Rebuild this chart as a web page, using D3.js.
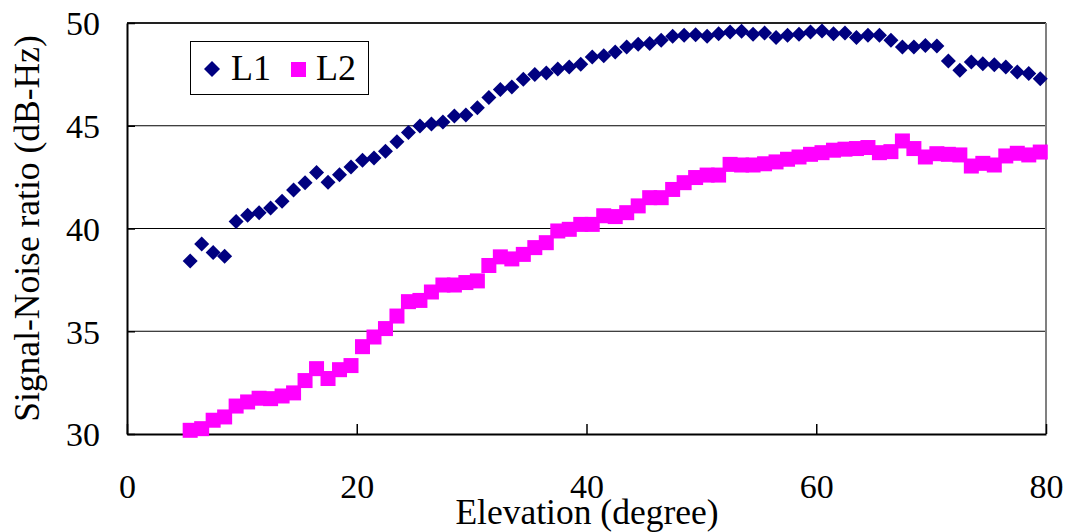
<!DOCTYPE html>
<html><head><meta charset="utf-8">
<script src="https://cdn.jsdelivr.net/npm/d3@7"></script>
<style>
html,body{margin:0;padding:0;background:#fff;}
svg text{font-family:"Liberation Serif","Times New Roman",serif;fill:#000;}
</style></head>
<body><svg id="c" width="1069" height="532"></svg>
<script>
const elevation = [5.5,6.5,7.5,8.5,9.5,10.5,11.5,12.5,13.5,14.5,15.5,16.5,17.5,18.5,19.5,20.5,21.5,22.5,23.5,24.5,25.5,26.5,27.5,28.5,29.5,30.5,31.5,32.5,33.5,34.5,35.5,36.5,37.5,38.5,39.5,40.5,41.5,42.5,43.5,44.5,45.5,46.5,47.5,48.5,49.5,50.5,51.5,52.5,53.5,54.5,55.5,56.5,57.5,58.5,59.5,60.5,61.5,62.5,63.5,64.5,65.5,66.5,67.5,68.5,69.5,70.5,71.5,72.5,73.5,74.5,75.5,76.5,77.5,78.5,79.5];
const L1 = [38.42,39.25,38.83,38.65,40.34,40.64,40.77,41.0,41.32,41.87,42.23,42.72,42.25,42.62,42.99,43.32,43.43,43.76,44.22,44.67,44.99,45.09,45.18,45.47,45.52,45.88,46.37,46.76,46.89,47.26,47.5,47.57,47.76,47.86,47.99,48.35,48.41,48.59,48.83,48.96,49.0,49.16,49.35,49.4,49.43,49.35,49.48,49.56,49.6,49.45,49.51,49.29,49.4,49.45,49.56,49.61,49.48,49.51,49.29,49.4,49.4,49.16,48.83,48.83,48.91,48.88,48.15,47.7,48.1,48.02,47.97,47.86,47.62,47.54,47.29];
const L2 = [30.18,30.26,30.67,30.83,31.36,31.56,31.74,31.72,31.85,32.0,32.6,33.18,32.7,33.13,33.33,34.25,34.72,35.13,35.74,36.44,36.5,36.91,37.25,37.25,37.37,37.45,38.2,38.62,38.52,38.74,39.07,39.31,39.88,39.96,40.2,40.2,40.62,40.58,40.77,41.1,41.5,41.5,41.9,42.23,42.48,42.6,42.6,43.12,43.09,43.09,43.15,43.24,43.37,43.48,43.61,43.69,43.81,43.86,43.89,43.94,43.69,43.74,44.26,43.89,43.48,43.64,43.61,43.58,43.04,43.17,43.09,43.53,43.66,43.58,43.72];
const xTicks = [0,20,40,60,80];
const yTicks = [30,35,40,45,50];
const seriesNames = ["L1","L2"];
const xTitle = "Elevation (degree)";
const yTitle = "Signal-Noise ratio (dB-Hz)";

const svg = d3.select("#c");
const pL = 127, pR = 1046, pT = 23, pB = 434;
const x = d3.scaleLinear().domain([0,80]).range([pL,pR]);
const y = d3.scaleLinear().domain([30,50]).range([pB,pT]);
const FS = 34;

// gridlines
svg.append("g").selectAll("line").data(yTicks.filter(v=>v>30 && v<50)).join("line")
  .attr("x1",pL).attr("x2",pR).attr("y1",d=>y(d)).attr("y2",d=>y(d))
  .attr("stroke","#000").attr("stroke-width",1.2);
// frame top
svg.append("line").attr("x1",pL).attr("x2",pR).attr("y1",y(50)).attr("y2",y(50))
  .attr("stroke","#222").attr("stroke-width",2);
// right border
svg.append("line").attr("x1",pR).attr("x2",pR).attr("y1",pT).attr("y2",pB)
  .attr("stroke","#808080").attr("stroke-width",2);

// axes
const xAxis = d3.axisBottom(x).tickValues(xTicks).tickSizeInner(-10).tickSizeOuter(0).tickPadding(0).tickFormat(d3.format("d"));
const gx = svg.append("g").attr("transform",`translate(0,${pB})`).call(xAxis);
gx.select(".domain").attr("stroke","#000").attr("stroke-width",2);
gx.selectAll(".tick line").attr("stroke","#000").attr("stroke-width",1.5);
gx.selectAll(".tick text").attr("font-size",FS).attr("dy",null).attr("y",64)
  .attr("font-family","Liberation Serif");

const yAxis = d3.axisLeft(y).tickValues(yTicks).tickSizeInner(-8).tickSizeOuter(0).tickPadding(0).tickFormat(d3.format("d"));
const gy = svg.append("g").attr("transform",`translate(${pL},0)`).call(yAxis);
gy.select(".domain").attr("stroke","#000").attr("stroke-width",2);
gy.selectAll(".tick line").attr("stroke","#000").attr("stroke-width",1.5);
gy.selectAll(".tick text").attr("font-size",FS).attr("x",-27).attr("dy","0.35em")
  .attr("font-family","Liberation Serif");

// titles
svg.append("text").attr("x",587).attr("y",524).attr("text-anchor","middle")
  .attr("font-size",35.5).text(xTitle);
svg.append("text").attr("transform",`translate(39,${(pT+pB)/2}) rotate(-90)`)
  .attr("text-anchor","middle").attr("font-size",35.5).text(yTitle);

// markers
const diamond = s => `M0,${-s}L${s},0L0,${s}L${-s},0Z`;
const dataL1 = elevation.map((e,i)=>({e, v:L1[i]}));
const dataL2 = elevation.map((e,i)=>({e, v:L2[i]}));
svg.append("g").selectAll("path").data(dataL1).join("path")
  .attr("d",diamond(7.5)).attr("transform",d=>`translate(${x(d.e)},${y(d.v)})`)
  .attr("fill","#000080");
svg.append("g").selectAll("rect").data(dataL2).join("rect")
  .attr("x",d=>x(d.e)-7.5).attr("y",d=>y(d.v)-7.5).attr("width",15).attr("height",15)
  .attr("fill","#FF00FF");

// legend
const lg = svg.append("g");
lg.append("rect").attr("x",190.5).attr("y",41.5).attr("width",178).attr("height",53)
  .attr("fill","#fff").attr("stroke","#000").attr("stroke-width",1);
lg.append("path").attr("d",diamond(8)).attr("transform","translate(212,69)").attr("fill","#000080");
lg.append("text").attr("x",231).attr("y",80).attr("font-size",36).text(seriesNames[0]);
lg.append("rect").attr("x",291).attr("y",62).attr("width",15).attr("height",15).attr("fill","#FF00FF");
lg.append("text").attr("x",316).attr("y",80).attr("font-size",36).text(seriesNames[1]);
</script></body></html>
